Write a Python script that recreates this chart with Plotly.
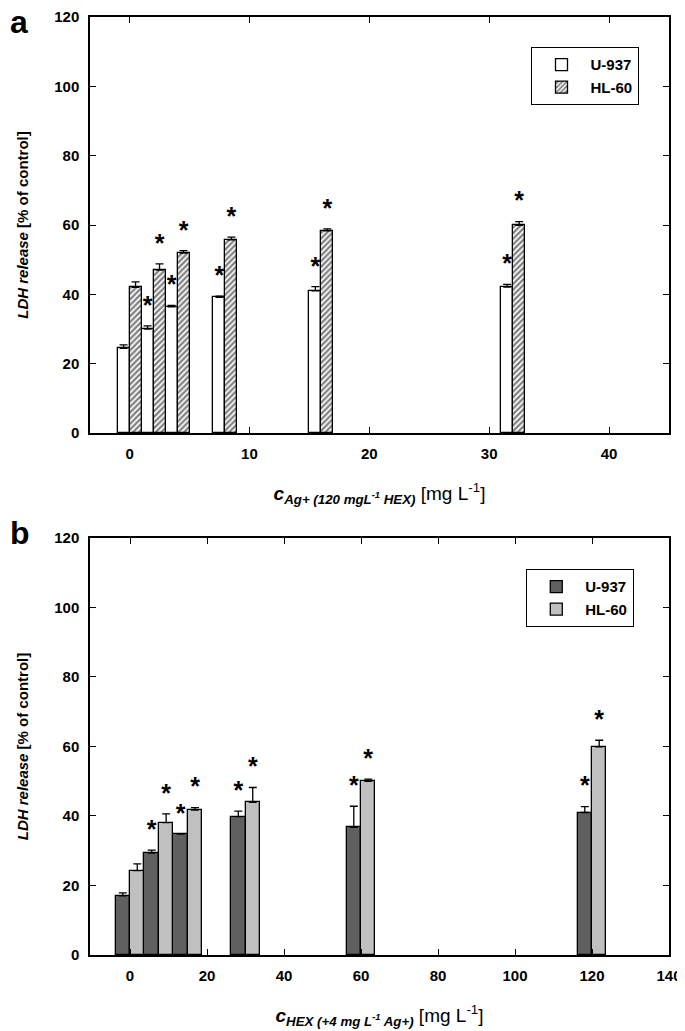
import plotly.graph_objects as go
from plotly.subplots import make_subplots

# panel a: Ag+ concentration series (120 mg/L HEX)
ag_conc = [0, 2, 4, 8, 16, 32]
ag_u937 = [24.4, 30.0, 36.4, 39.1, 41.0, 42.1]
ag_u937_err = [1.0, 0.9, 0.4, 0.4, 1.2, 0.8]
ag_hl60 = [42.0, 47.0, 51.9, 55.7, 58.3, 59.9]
ag_hl60_err = [1.6, 1.8, 0.7, 0.8, 0.6, 1.1]
ag_u937_sig = [False, True, True, True, True, True]
ag_hl60_sig = [False, True, True, True, True, True]

# panel b: HEX concentration series (+4 mg/L Ag+)
hex_conc = [0, 7.5, 15, 30, 60, 120]
hex_u937 = [17.0, 29.3, 34.8, 39.8, 36.7, 41.0]
hex_u937_err = [0.9, 0.9, 0.0, 1.6, 6.1, 1.7]
hex_hl60 = [24.3, 38.1, 41.7, 43.9, 50.0, 59.9]
hex_hl60_err = [1.9, 2.5, 0.7, 4.3, 0.6, 1.9]
hex_u937_sig = [False, True, True, True, True, True]
hex_hl60_sig = [False, True, True, True, True, True]

FONT = "Arial, Liberation Sans, sans-serif"
STAR_GAP = 5.3  # data units between error cap and asterisk

fig = make_subplots(rows=2, cols=1, vertical_spacing=0.112)


def add_panel(row, conc, u, u_err, hl, hl_err, u_sig, hl_sig, u_style, hl_style, legend):
    for name, vals, errs, style in [("U-937", u, u_err, u_style), ("HL-60", hl, hl_err, hl_style)]:
        fig.add_trace(go.Bar(
            x=conc, y=vals, name=name, legend=legend,
            marker=dict(line=dict(color="black", width=1.3), **style),
            error_y=dict(type="data", array=errs, arrayminus=[0] * len(errs),
                         symmetric=False, color="black", thickness=1.3, width=4),
        ), row=row, col=1)

    # asterisks above significant bars
    step = min(b - a for a, b in zip(conc, conc[1:]))
    half = step / 4
    sx, sy = [], []
    for c, v, e, s in zip(conc, u, u_err, u_sig):
        if s:
            sx.append(c - half)
            sy.append(v + e + STAR_GAP)
    for c, v, e, s in zip(conc, hl, hl_err, hl_sig):
        if s:
            sx.append(c + half)
            sy.append(v + e + STAR_GAP)
    fig.add_trace(go.Scatter(
        x=sx, y=sy, mode="text", text=["*"] * len(sx), showlegend=False,
        textfont=dict(family=FONT, size=25, color="black", weight="bold"),
        hoverinfo="skip",
    ), row=row, col=1)


add_panel(1, ag_conc, ag_u937, ag_u937_err, ag_hl60, ag_hl60_err, ag_u937_sig, ag_hl60_sig,
          dict(color="white"),
          dict(color="white", pattern=dict(shape="/", fgcolor="black", bgcolor="white",
                                           size=4, solidity=0.55)),
          "legend")
add_panel(2, hex_conc, hex_u937, hex_u937_err, hex_hl60, hex_hl60_err, hex_u937_sig, hex_hl60_sig,
          dict(color="#606060"), dict(color="#c0c0c0"), "legend2")

axis_common = dict(showline=True, linecolor="black", linewidth=1.5, mirror="ticks",
                   ticks="inside", ticklen=6, tickwidth=1.3, tickcolor="black",
                   showgrid=False, zeroline=False, automargin=False,
                   tickfont=dict(family=FONT, size=15, color="black", weight="bold"))

ytitle = dict(text="<b><i>LDH release</i> [% of control]</b>", standoff=22,
              font=dict(family=FONT, size=15, color="black"))
fig.update_yaxes(range=[0, 120], dtick=20, ticklabelstandoff=6, title=ytitle, **axis_common)

fig.update_xaxes(range=[-3.3, 45], tick0=0, dtick=10, ticklabelstandoff=6,
                 title=dict(text="<b><i>c<sub>Ag+ (120 mgL<sup>-1</sup> HEX)</sub></i></b> [mg L<sup>-1</sup>]",
                            standoff=26, font=dict(family=FONT, size=19, color="black")),
                 row=1, col=1, **axis_common)
fig.update_xaxes(range=[-10.4, 140], tick0=0, dtick=20, ticklabelstandoff=6,
                 title=dict(text="<b><i>c<sub>HEX (+4 mg L<sup>-1</sup> Ag+)</sub></i></b> [mg L<sup>-1</sup>]",
                            standoff=26, font=dict(family=FONT, size=19, color="black")),
                 row=2, col=1, **axis_common)

legend_style = dict(bordercolor="black", borderwidth=1.3, bgcolor="white",
                    font=dict(family=FONT, size=15, color="black", weight="bold"),
                    xanchor="left", yanchor="top", tracegroupgap=0, itemwidth=48)

# the page body adds an 8 px offset, so the figure is 8 px smaller each way
fig.update_layout(
    width=677, height=1023,
    margin=dict(l=82, r=16, t=9, b=76),
    plot_bgcolor="white", paper_bgcolor="white",
    barmode="group", bargap=0, bargroupgap=0,
    showlegend=True,
    legend=dict(x=0.762, y=0.968, **legend_style),
    legend2=dict(x=0.753, y=0.4115, **legend_style),
    annotations=[
        dict(text="<b>a</b>", x=-0.1416, y=0.995, xref="paper", yref="paper", showarrow=False,
             xanchor="left", yanchor="middle", font=dict(family=FONT, size=32, color="black")),
        dict(text="<b>b</b>", x=-0.1416, y=0.4499, xref="paper", yref="paper", showarrow=False,
             xanchor="left", yanchor="middle", font=dict(family=FONT, size=32, color="black")),
    ],
)
fig.update_yaxes(domain=[0.5565, 1.0], row=1, col=1)
fig.update_yaxes(domain=[0.0, 0.4446], row=2, col=1)

fig.write_html("out.html")
